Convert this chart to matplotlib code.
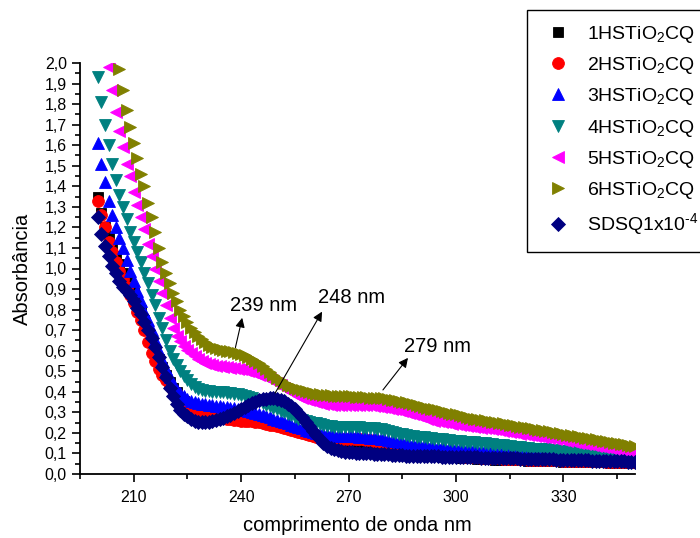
import numpy as np
import matplotlib
matplotlib.use("Agg")
import matplotlib.pyplot as plt
from matplotlib.ticker import MultipleLocator, FuncFormatter

plt.rcParams['font.family'] = ['Liberation Sans', 'DejaVu Sans']
plt.rcParams['mathtext.fontset'] = 'custom'
plt.rcParams['mathtext.rm'] = 'Liberation Sans'

# wavelength (nm), one reading per nm
wavelength = list(range(200, 351))

hs1 = [1.35, 1.27, 1.20, 1.15, 1.10, 1.06, 1.02, 0.98, 0.95, 0.92,
       0.88, 0.84, 0.80, 0.75, 0.70, 0.65, 0.60, 0.56, 0.52, 0.48,
       0.45, 0.42, 0.40, 0.375, 0.355, 0.34, 0.325, 0.315, 0.305, 0.30,
       0.295, 0.29, 0.285, 0.282, 0.28, 0.277, 0.275, 0.272, 0.27, 0.268,
       0.265, 0.265, 0.265, 0.262, 0.26, 0.257, 0.255, 0.25, 0.245, 0.242,
       0.24, 0.235, 0.23, 0.225, 0.22, 0.215, 0.21, 0.205, 0.20, 0.195,
       0.19, 0.185, 0.178, 0.172, 0.166, 0.16, 0.155, 0.15, 0.147, 0.145,
       0.143, 0.142, 0.141, 0.14, 0.14, 0.14, 0.14, 0.138, 0.136, 0.134,
       0.132, 0.128, 0.124, 0.12, 0.115, 0.11, 0.105, 0.10, 0.097, 0.095,
       0.093, 0.091, 0.09, 0.088, 0.087, 0.086, 0.085, 0.084, 0.083, 0.082,
       0.081, 0.08, 0.079, 0.078, 0.077, 0.076, 0.075, 0.074, 0.073, 0.072,
       0.071, 0.07, 0.07, 0.069, 0.068, 0.068, 0.067, 0.067, 0.066, 0.066,
       0.065, 0.065, 0.064, 0.064, 0.063, 0.063, 0.062, 0.062, 0.061, 0.061,
       0.06, 0.06, 0.06, 0.059, 0.059, 0.058, 0.058, 0.058, 0.057, 0.057,
       0.056, 0.056, 0.056, 0.055, 0.055, 0.055, 0.054, 0.054, 0.054, 0.053,
       0.053]

hs2 = [1.33, 1.26, 1.20, 1.13, 1.08, 1.03, 0.99, 0.95, 0.91, 0.87,
       0.83, 0.79, 0.75, 0.70, 0.64, 0.59, 0.55, 0.51, 0.48, 0.455,
       0.43, 0.41, 0.39, 0.37, 0.35, 0.335, 0.32, 0.31, 0.30, 0.295,
       0.29, 0.285, 0.28, 0.278, 0.275, 0.272, 0.27, 0.268, 0.265, 0.263,
       0.26, 0.26, 0.26, 0.258, 0.255, 0.252, 0.25, 0.245, 0.24, 0.238,
       0.235, 0.23, 0.225, 0.22, 0.215, 0.21, 0.205, 0.20, 0.195, 0.19,
       0.185, 0.18, 0.177, 0.175, 0.173, 0.172, 0.171, 0.17, 0.17, 0.17,
       0.17, 0.17, 0.17, 0.17, 0.169, 0.167, 0.165, 0.162, 0.159, 0.155,
       0.152, 0.147, 0.142, 0.137, 0.132, 0.126, 0.12, 0.115, 0.11, 0.107,
       0.105, 0.102, 0.10, 0.098, 0.096, 0.094, 0.092, 0.09, 0.089, 0.088,
       0.087, 0.086, 0.085, 0.084, 0.083, 0.082, 0.081, 0.08, 0.079, 0.078,
       0.077, 0.076, 0.076, 0.075, 0.074, 0.074, 0.073, 0.072, 0.072, 0.071,
       0.07, 0.07, 0.069, 0.069, 0.068, 0.068, 0.067, 0.067, 0.066, 0.066,
       0.065, 0.065, 0.064, 0.064, 0.064, 0.063, 0.063, 0.062, 0.062, 0.062,
       0.061, 0.061, 0.06, 0.06, 0.06, 0.059, 0.059, 0.059, 0.058, 0.058,
       0.058]

hs3 = [1.61, 1.51, 1.42, 1.33, 1.26, 1.20, 1.15, 1.10, 1.04, 0.99,
       0.94, 0.89, 0.84, 0.79, 0.75, 0.70, 0.65, 0.60, 0.555, 0.51,
       0.47, 0.44, 0.41, 0.395, 0.38, 0.365, 0.355, 0.35, 0.345, 0.342,
       0.34, 0.338, 0.335, 0.332, 0.33, 0.328, 0.325, 0.322, 0.32, 0.318,
       0.315, 0.31, 0.305, 0.30, 0.295, 0.29, 0.285, 0.28, 0.275, 0.27,
       0.265, 0.26, 0.255, 0.248, 0.24, 0.235, 0.23, 0.222, 0.215, 0.21,
       0.205, 0.20, 0.197, 0.195, 0.193, 0.19, 0.188, 0.186, 0.185, 0.184,
       0.183, 0.183, 0.183, 0.182, 0.18, 0.178, 0.177, 0.175, 0.173, 0.171,
       0.169, 0.166, 0.163, 0.16, 0.157, 0.154, 0.151, 0.148, 0.145, 0.143,
       0.14, 0.138, 0.136, 0.134, 0.132, 0.13, 0.129, 0.128, 0.127, 0.126,
       0.125, 0.124, 0.123, 0.122, 0.121, 0.12, 0.119, 0.118, 0.117, 0.116,
       0.115, 0.114, 0.113, 0.112, 0.111, 0.11, 0.108, 0.106, 0.104, 0.102,
       0.10, 0.099, 0.098, 0.097, 0.096, 0.095, 0.094, 0.093, 0.092, 0.091,
       0.09, 0.09, 0.089, 0.089, 0.088, 0.088, 0.087, 0.087, 0.086, 0.086,
       0.085, 0.085, 0.084, 0.084, 0.083, 0.083, 0.082, 0.082, 0.081, 0.081,
       0.08]

hs4 = [1.93, 1.81, 1.70, 1.60, 1.51, 1.43, 1.36, 1.30, 1.24, 1.18,
       1.13, 1.08, 1.03, 0.98, 0.93, 0.87, 0.82, 0.76, 0.71, 0.65,
       0.60, 0.56, 0.53, 0.50, 0.475, 0.455, 0.44, 0.425, 0.415, 0.41,
       0.405, 0.403, 0.40, 0.40, 0.40, 0.398, 0.395, 0.393, 0.39, 0.388,
       0.385, 0.38, 0.375, 0.368, 0.36, 0.353, 0.345, 0.338, 0.33, 0.323,
       0.315, 0.308, 0.30, 0.292, 0.285, 0.278, 0.27, 0.265, 0.26, 0.255,
       0.25, 0.246, 0.242, 0.238, 0.235, 0.233, 0.231, 0.23, 0.23, 0.23,
       0.23, 0.23, 0.23, 0.228, 0.226, 0.225, 0.224, 0.222, 0.22, 0.218,
       0.215, 0.21, 0.205, 0.20, 0.197, 0.193, 0.19, 0.187, 0.184, 0.182,
       0.18, 0.178, 0.176, 0.174, 0.172, 0.17, 0.168, 0.166, 0.164, 0.162,
       0.16, 0.159, 0.158, 0.157, 0.156, 0.155, 0.153, 0.151, 0.149, 0.147,
       0.145, 0.143, 0.141, 0.139, 0.137, 0.135, 0.133, 0.131, 0.129, 0.127,
       0.125, 0.124, 0.123, 0.122, 0.121, 0.12, 0.118, 0.116, 0.114, 0.112,
       0.11, 0.109, 0.108, 0.107, 0.106, 0.105, 0.104, 0.103, 0.102, 0.101,
       0.10, 0.099, 0.098, 0.097, 0.096, 0.095, 0.094, 0.093, 0.092, 0.091,
       0.09]

hs5 = [2.35, 2.22, 2.10, 1.98, 1.87, 1.76, 1.67, 1.59, 1.51, 1.45,
       1.37, 1.31, 1.25, 1.19, 1.12, 1.06, 1.00, 0.94, 0.88, 0.82,
       0.76, 0.71, 0.67, 0.645, 0.625, 0.605, 0.59, 0.575, 0.562, 0.55,
       0.54, 0.535, 0.53, 0.527, 0.525, 0.522, 0.52, 0.518, 0.515, 0.512,
       0.51, 0.505, 0.50, 0.495, 0.49, 0.483, 0.477, 0.47, 0.462, 0.453,
       0.443, 0.432, 0.42, 0.41, 0.40, 0.39, 0.38, 0.372, 0.365, 0.36,
       0.355, 0.35, 0.345, 0.342, 0.34, 0.338, 0.336, 0.335, 0.335, 0.335,
       0.335, 0.335, 0.335, 0.335, 0.335, 0.335, 0.335, 0.333, 0.331, 0.328,
       0.325, 0.322, 0.318, 0.314, 0.31, 0.305, 0.30, 0.295, 0.29, 0.285,
       0.28, 0.275, 0.27, 0.265, 0.26, 0.257, 0.254, 0.251, 0.248, 0.245,
       0.243, 0.24, 0.237, 0.234, 0.232, 0.23, 0.228, 0.226, 0.224, 0.222,
       0.22, 0.217, 0.214, 0.211, 0.208, 0.205, 0.202, 0.199, 0.196, 0.193,
       0.19, 0.188, 0.186, 0.184, 0.182, 0.18, 0.177, 0.174, 0.171, 0.168,
       0.165, 0.162, 0.159, 0.156, 0.153, 0.15, 0.147, 0.144, 0.141, 0.138,
       0.135, 0.132, 0.129, 0.126, 0.123, 0.12, 0.118, 0.116, 0.114, 0.112,
       0.11]

hs6 = [2.68, 2.55, 2.42, 2.30, 2.18, 2.07, 1.97, 1.87, 1.77, 1.69,
       1.61, 1.54, 1.46, 1.40, 1.32, 1.25, 1.18, 1.10, 1.03, 0.98,
       0.93, 0.88, 0.84, 0.80, 0.77, 0.74, 0.71, 0.69, 0.67, 0.655,
       0.64, 0.63, 0.62, 0.615, 0.61, 0.605, 0.60, 0.60, 0.595, 0.59,
       0.585, 0.58, 0.57, 0.56, 0.55, 0.538, 0.525, 0.51, 0.495, 0.48,
       0.467, 0.455, 0.445, 0.435, 0.43, 0.42, 0.415, 0.41, 0.405, 0.40,
       0.395, 0.39, 0.39, 0.385, 0.385, 0.385, 0.38, 0.38, 0.38, 0.38,
       0.38, 0.378, 0.376, 0.375, 0.374, 0.373, 0.372, 0.371, 0.37, 0.37,
       0.368, 0.365, 0.362, 0.358, 0.355, 0.352, 0.348, 0.344, 0.34, 0.335,
       0.33, 0.326, 0.322, 0.318, 0.314, 0.31, 0.306, 0.302, 0.298, 0.294,
       0.29, 0.286, 0.282, 0.278, 0.274, 0.27, 0.267, 0.264, 0.261, 0.258,
       0.255, 0.252, 0.249, 0.246, 0.243, 0.24, 0.237, 0.234, 0.231, 0.228,
       0.225, 0.222, 0.219, 0.216, 0.213, 0.21, 0.207, 0.204, 0.201, 0.198,
       0.195, 0.192, 0.189, 0.186, 0.183, 0.18, 0.177, 0.174, 0.171, 0.168,
       0.165, 0.162, 0.159, 0.156, 0.153, 0.15, 0.147, 0.144, 0.141, 0.138,
       0.135]

sdsq = [1.25, 1.17, 1.11, 1.06, 1.01, 0.98, 0.94, 0.91, 0.89, 0.87,
        0.84, 0.81, 0.78, 0.74, 0.70, 0.66, 0.62, 0.57, 0.52, 0.47,
        0.42, 0.38, 0.34, 0.31, 0.29, 0.28, 0.27, 0.26, 0.255, 0.255,
        0.255, 0.255, 0.258, 0.262, 0.267, 0.273, 0.28, 0.288, 0.297, 0.306,
        0.315, 0.325, 0.335, 0.344, 0.352, 0.358, 0.363, 0.367, 0.37, 0.37,
        0.367, 0.362, 0.354, 0.343, 0.33, 0.314, 0.296, 0.276, 0.255, 0.233,
        0.211, 0.19, 0.17, 0.152, 0.138, 0.128, 0.12, 0.115, 0.111, 0.108,
        0.106, 0.105, 0.104, 0.103, 0.102, 0.101, 0.10, 0.099, 0.098, 0.097,
        0.096, 0.095, 0.094, 0.093, 0.092, 0.091, 0.09, 0.09, 0.089, 0.089,
        0.088, 0.088, 0.087, 0.087, 0.086, 0.086, 0.085, 0.085, 0.084, 0.084,
        0.084, 0.083, 0.083, 0.082, 0.082, 0.081, 0.081, 0.08, 0.08, 0.08,
        0.079, 0.079, 0.078, 0.078, 0.077, 0.077, 0.076, 0.076, 0.075, 0.075,
        0.074, 0.074, 0.073, 0.073, 0.072, 0.072, 0.071, 0.071, 0.07, 0.07,
        0.069, 0.069, 0.068, 0.068, 0.067, 0.067, 0.066, 0.066, 0.065, 0.065,
        0.064, 0.064, 0.063, 0.063, 0.062, 0.062, 0.061, 0.061, 0.06, 0.06,
        0.06]

labels = ['1HSTiO$_\\mathregular{2}$CQ', '2HSTiO$_\\mathregular{2}$CQ',
          '3HSTiO$_\\mathregular{2}$CQ', '4HSTiO$_\\mathregular{2}$CQ',
          '5HSTiO$_\\mathregular{2}$CQ', '6HSTiO$_\\mathregular{2}$CQ',
          'SDSQ1x10$^\\text{-4}$']
series = [hs1, hs2, hs3, hs4, hs5, hs6, sdsq]
colors = ['#000000', '#ff0000', '#0000ff', '#008080', '#ff00ff', '#808000', '#000080']
markers = ['s', 'o', '^', 'v', '<', '>', 'D']
sizes = [7.5, 8.5, 9, 9, 9, 9, 7.5]

fig = plt.figure(figsize=(7, 5.38), dpi=100)
ax = fig.add_axes([80/700, 1 - 474/538, 555/700, 411/538])

for s, c, m, ms, lab in zip(series, colors, markers, sizes, labels):
    ax.plot(wavelength, s, ls='none', marker=m, ms=ms, color=c,
            mec=c, mew=0.6, label=lab)

ax.set_xlim(195, 350)
ax.set_ylim(0, 2.0)
ax.spines['top'].set_visible(False)
ax.spines['right'].set_visible(False)
for sp in ['left', 'bottom']:
    ax.spines[sp].set_linewidth(1.3)

ax.set_xticks([210, 240, 270, 300, 330])
ax.xaxis.set_minor_locator(MultipleLocator(15))
ax.yaxis.set_major_locator(MultipleLocator(0.1))
ax.yaxis.set_minor_locator(MultipleLocator(0.05))
ax.yaxis.set_major_formatter(FuncFormatter(lambda v, p: f'{v:.1f}'.replace('.', ',')))
ax.tick_params(which='major', direction='out', length=6, width=1.2, labelsize=11.5)
ax.tick_params(which='minor', direction='out', length=3.5, width=1.2)
ax.tick_params(axis='x', which='major', pad=5.5)

ax.set_xlabel('comprimento de onda nm', fontsize=14.5, labelpad=8)
ax.set_ylabel('Absorbância', fontsize=14.5, labelpad=9)

# peak annotations: arrow from curve to label
arrows = [((238.4, 0.615), (240.3, 0.76)),
          ((249.5, 0.394), (262.6, 0.79)),
          ((279.6, 0.409), (286.6, 0.565))]
notes = [('239 nm', 246.2, 0.82), ('248 nm', 270.8, 0.86), ('279 nm', 294.9, 0.62)]
for (tail, tip) in arrows:
    ax.annotate('', xy=tip, xytext=tail,
                arrowprops=dict(arrowstyle='-|>', color='black', lw=0.8,
                                mutation_scale=14, shrinkA=0, shrinkB=0))
for txt, x, y in notes:
    ax.text(x, y, txt, fontsize=14.5, ha='center', va='center')

leg = ax.legend(loc='upper left', bbox_to_anchor=(527/700, 1 - 10/538),
                bbox_transform=fig.transFigure, fontsize=14, numpoints=1,
                frameon=True, fancybox=False, framealpha=1, edgecolor='black',
                handlelength=1.8, handletextpad=0.6, borderpad=0.7,
                labelspacing=0.53, borderaxespad=0)
leg.get_frame().set_linewidth(1.0)

fig.savefig('out.png', dpi=100)
